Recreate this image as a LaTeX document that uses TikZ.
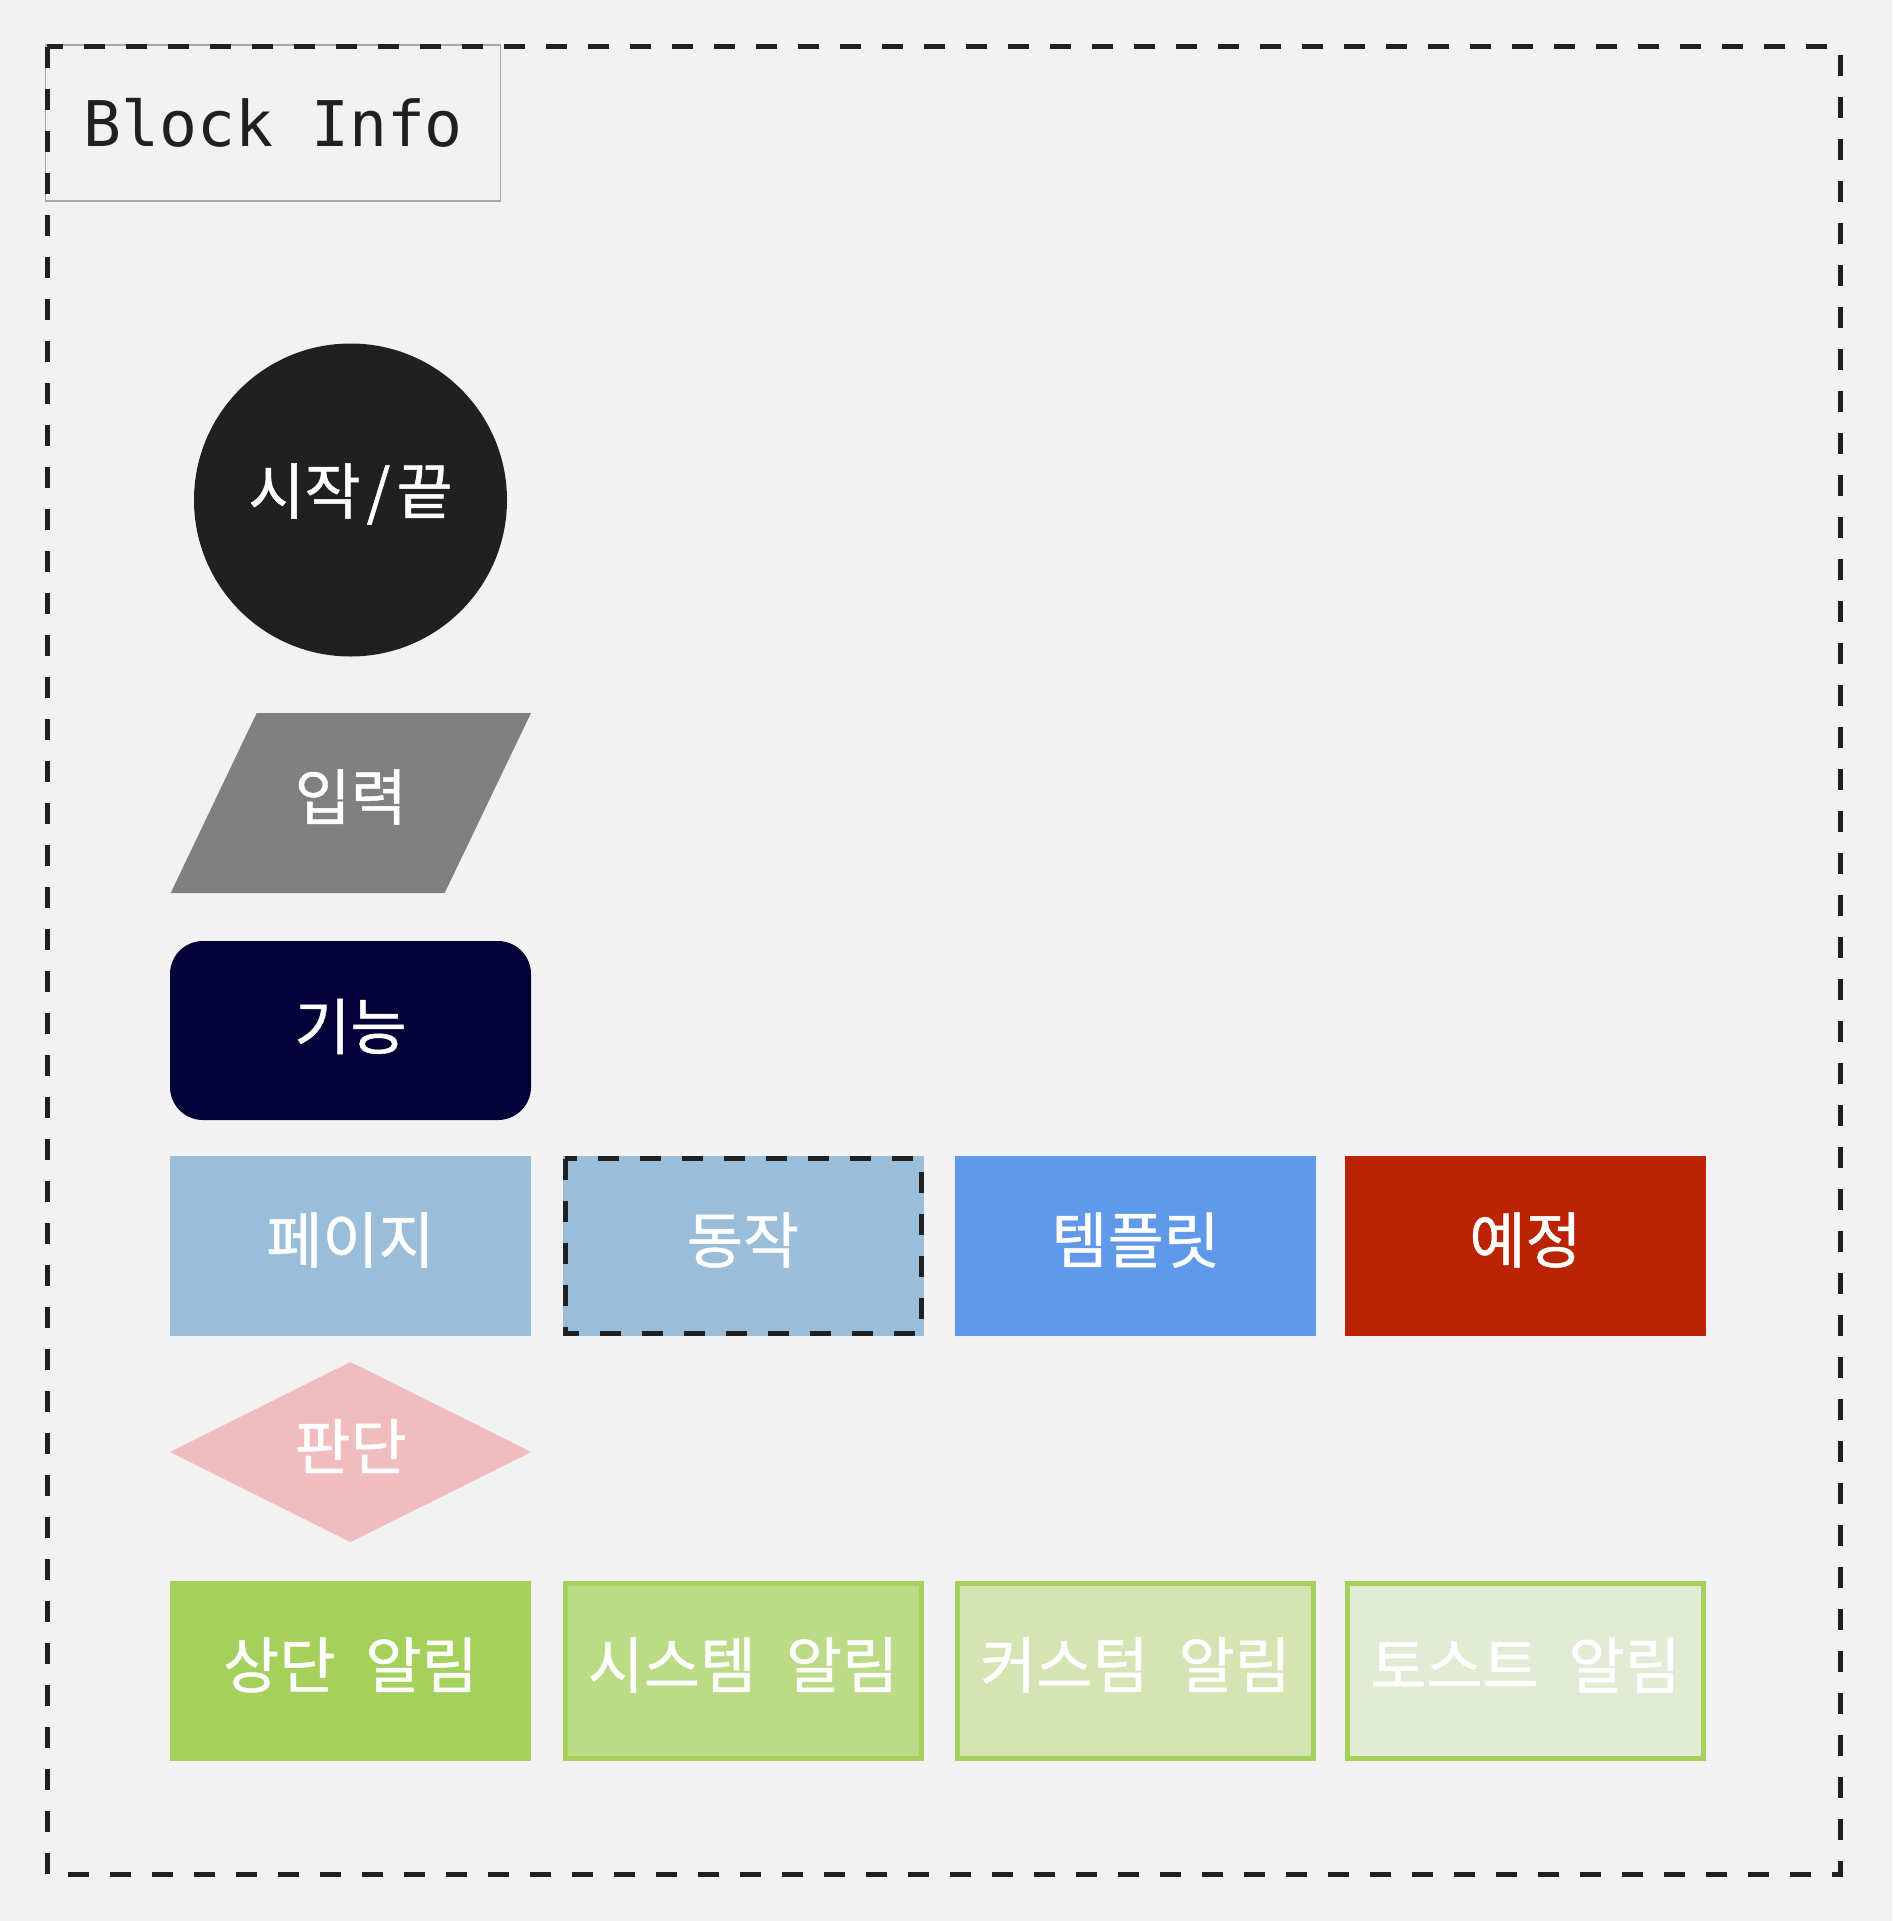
\documentclass[tikz,border=0pt]{standalone}
\usepackage{fontspec}
\newfontfamily\krfont{Noto Sans CJK KR}[FakeBold=0.8]
\newfontfamily\monofont{DejaVu Sans Mono}
\newcommand\kgap{\hspace{30pt}}
\definecolor{bgc}{HTML}{F2F2F2}
\definecolor{inkc}{HTML}{202020}
\definecolor{greyc}{HTML}{808080}
\definecolor{navyc}{HTML}{03033A}
\definecolor{pagec}{HTML}{9ABDDA}
\definecolor{tmplc}{HTML}{6199EA}
\definecolor{planc}{HTML}{BA2304}
\definecolor{pinkc}{HTML}{F0BCBE}
\definecolor{greenA}{HTML}{A6D05C}
\definecolor{greenB}{HTML}{BCDB86}
\definecolor{greenC}{HTML}{D4E5B3}
\definecolor{greenD}{HTML}{E2ECD5}
\definecolor{framec}{HTML}{A8A8A8}
\begin{document}
\begin{tikzpicture}[x=1pt,y=-1pt,
  lbl/.style={text=white, font=\krfont\fontsize{61}{64}\selectfont, inner sep=0pt},
  boxc/.style={rectangle, minimum width=361pt, minimum height=180pt, inner sep=0pt, draw=none},
  alertbox/.style={rectangle, minimum width=356pt, minimum height=175pt, inner sep=0pt, draw=greenA, line width=5pt}]
\fill[bgc] (0,0) rectangle (1892,1921);
\useasboundingbox (0,0) rectangle (1892,1921);

% Block Info header
\node[draw=framec, line width=1.2pt, minimum width=455pt, minimum height=156pt, inner sep=0pt,
      font=\monofont\fontsize{63}{66}\selectfont, text=inkc] (blockinfo) at (273.25,123) {Block Info};

% outer dashed frame
\draw[inkc, line width=5pt, dash pattern=on 21pt off 21pt] (47,47) rectangle (1840,1874);

% start/end circle
\node[circle, fill=inkc, minimum size=313pt, inner sep=0pt] (startend) at (350.5,500) {};
\node[lbl] (startendT) at ([yshift=6pt]startend.center) {시작\kern6pt/\kern6pt끝};

% input parallelogram
\fill[greyc] (256.7,713) -- (531,713) -- (444.7,893) -- (170.7,893) -- cycle;
\coordinate (inputC) at (350.8,803);
\node[lbl] (inputT) at ([yshift=6pt]inputC) {입력};

% function rounded rect
\fill[navyc, rounded corners=33pt] (170,941) rectangle (531,1120);
\coordinate (funcC) at (350.5,1030.5);
\node[lbl] (funcT) at ([yshift=4pt]funcC) {기능};

% row 1
\node[boxc, fill=pagec] (page) at (350.5,1246) {};
\node[lbl] (pageT) at ([yshift=6pt]page.center) {페이지};
\node[boxc, fill=pagec] (action) at (743,1246) {};
\draw[inkc, line width=5pt, dash pattern=on 21pt off 21pt] (565,1158.5) rectangle (921,1333.5);
\node[lbl] (actionT) at ([yshift=6pt]action.center) {동작};
\node[boxc, fill=tmplc] (tmpl) at (1135.5,1246) {};
\node[lbl] (tmplT) at ([yshift=6pt]tmpl.center) {템플릿};
\node[boxc, fill=planc] (plan) at (1525.5,1246) {};
\node[lbl] (planT) at ([yshift=6pt]plan.center) {예정};

% decision diamond
\fill[pinkc] (350.5,1362) -- (531,1452) -- (350.5,1542) -- (170,1452) -- cycle;
\coordinate (decC) at (350.5,1452);
\node[lbl] (decT) at ([yshift=6pt]decC) {판단};

% row 2 alerts
\node[boxc, fill=greenA] (topalert) at (350.5,1671) {};
\node[lbl] (topalertT) at ([yshift=6pt]topalert.center) {상단\kgap 알림};
\node[alertbox, fill=greenB] (sysalert) at (743,1671) {};
\node[lbl] (sysalertT) at ([yshift=6pt]sysalert.center) {시스템\kgap 알림};
\node[alertbox, fill=greenC] (custalert) at (1135.5,1671) {};
\node[lbl] (custalertT) at ([yshift=6pt]custalert.center) {커스텀\kgap 알림};
\node[alertbox, fill=greenD] (toastalert) at (1525.5,1671) {};
\node[lbl] (toastalertT) at ([yshift=6pt]toastalert.center) {토스트\kgap 알림};
\end{tikzpicture}
\end{document}
